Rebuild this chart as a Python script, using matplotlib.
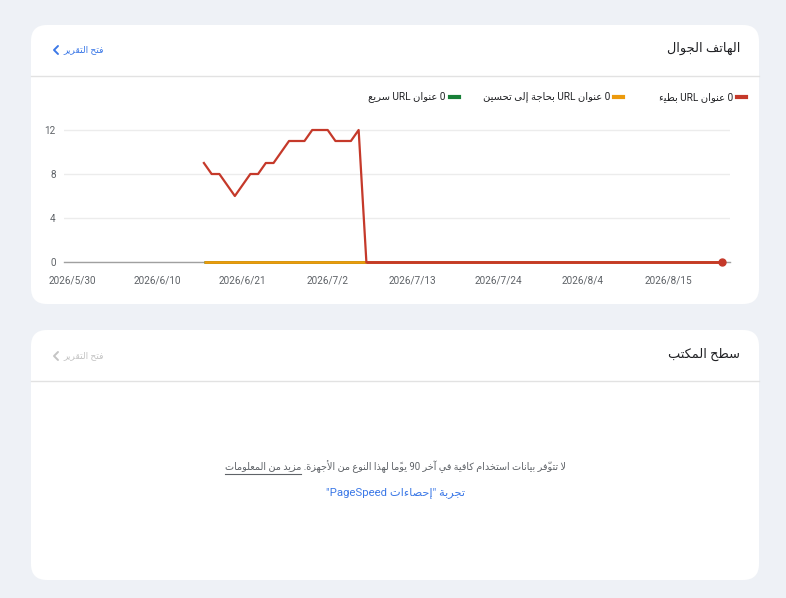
import re
import numpy as np
import matplotlib
matplotlib.use("Agg")
import matplotlib.pyplot as plt
from matplotlib.patches import FancyBboxPatch

# ---- data ----
tick_labels = ["2026/5/30", "2026/6/10", "2026/6/21", "2026/7/2",
               "2026/7/13", "2026/7/24", "2026/8/4", "2026/8/15"]
start_date = "2026-06-16"
slow = [9, 8, 8, 7, 6, 7, 8, 8, 9, 9, 10, 11, 11, 11, 12, 12, 12, 11, 11, 11, 12,
        0, 0, 0, 0, 0, 0, 0, 0, 0, 0, 0, 0, 0, 0, 0, 0, 0, 0, 0, 0, 0, 0, 0,
        0, 0, 0, 0, 0, 0, 0, 0, 0, 0, 0, 0, 0, 0, 0, 0, 0, 0, 0, 0, 0, 0, 0, 0]
needs_work = [0, 0, 0, 0, 0, 0, 0, 0, 0, 0, 0, 0, 0, 0, 0, 0, 0, 0, 0, 0, 0,
              0, 0, 0, 0, 0, 0, 0, 0, 0, 0, 0, 0, 0, 0, 0, 0, 0, 0, 0, 0, 0, 0, 0,
              0, 0, 0, 0, 0, 0, 0, 0, 0, 0, 0, 0, 0, 0, 0, 0, 0, 0, 0, 0, 0, 0, 0, 0]
fast = list(needs_work)

legend_labels = ["0 عنوان URL بطيء", "0 عنوان URL بحاجة إلى تحسين", "0 عنوان URL سريع"]
colors = ["#c5392a", "#ec9a0c", "#188038"]

# ---- minimal arabic shaping + rtl ordering (matplotlib does neither) ----
FORMS = {'ء': (0xFE80, 1), 'آ': (0xFE81, 2), 'أ': (0xFE83, 2), 'ؤ': (0xFE85, 2),
         'إ': (0xFE87, 2), 'ئ': (0xFE89, 4), 'ا': (0xFE8D, 2), 'ب': (0xFE8F, 4),
         'ة': (0xFE93, 2), 'ت': (0xFE95, 4), 'ث': (0xFE99, 4), 'ج': (0xFE9D, 4),
         'ح': (0xFEA1, 4), 'خ': (0xFEA5, 4), 'د': (0xFEA9, 2), 'ذ': (0xFEAB, 2),
         'ر': (0xFEAD, 2), 'ز': (0xFEAF, 2), 'س': (0xFEB1, 4), 'ش': (0xFEB5, 4),
         'ص': (0xFEB9, 4), 'ض': (0xFEBD, 4), 'ط': (0xFEC1, 4), 'ظ': (0xFEC5, 4),
         'ع': (0xFEC9, 4), 'غ': (0xFECD, 4), 'ف': (0xFED1, 4), 'ق': (0xFED5, 4),
         'ك': (0xFED9, 4), 'ل': (0xFEDD, 4), 'م': (0xFEE1, 4), 'ن': (0xFEE5, 4),
         'ه': (0xFEE9, 4), 'و': (0xFEED, 2), 'ى': (0xFEEF, 2), 'ي': (0xFEF1, 4)}
LAM_ALEF = {'آ': 0xFEF5, 'أ': 0xFEF7, 'إ': 0xFEF9, 'ا': 0xFEFB}


def is_mark(c):
    return '\u064B' <= c <= '\u0652'


def shape(s):
    n = len(s)
    out = []

    def letter(j, step):
        while 0 <= j < n and is_mark(s[j]):
            j += step
        return j if 0 <= j < n else None

    i = 0
    while i < n:
        c = s[i]
        if c not in FORMS:
            out.append(c)
            i += 1
            continue
        p = letter(i - 1, -1)
        jp = p is not None and s[p] in FORMS and FORMS[s[p]][1] == 4
        nx = letter(i + 1, 1)
        if c == 'ل' and nx is not None and s[nx] in LAM_ALEF:
            out.append(chr(LAM_ALEF[s[nx]] + (1 if jp else 0)))
            i = nx + 1
            continue
        base, k = FORMS[c]
        jn = k == 4 and nx is not None and s[nx] in FORMS
        if k == 1:
            f = 0
        elif k == 2:
            f = 1 if jp else 0
        else:
            f = {(False, False): 0, (True, False): 1, (False, True): 2, (True, True): 3}[(jp, jn)]
        out.append(chr(base + f))
        i += 1
    return ''.join(out)


def rev_clusters(t):
    cl = []
    for ch in t:
        if is_mark(ch) and cl:
            cl[-1] += ch
        else:
            cl.append(ch)
    return ''.join(reversed(cl))


def ar(s):
    parts = re.split(r'([A-Za-z0-9]+(?:[ ./][A-Za-z0-9]+)*)', shape(s))
    out = [p if k % 2 else rev_clusters(p) for k, p in enumerate(parts)]
    return ''.join(reversed(out))


FAM = ['Roboto', 'DejaVu Sans']
W, H = 786, 598
fig = plt.figure(figsize=(W / 100, H / 100), dpi=100)
fig.patch.set_facecolor('#eef1f6')

bg = fig.add_axes([0, 0, 1, 1])
bg.set_xlim(0, W)
bg.set_ylim(H, 0)
bg.axis('off')

# cards
for (y0, y1, ydiv) in [(25, 304, 76), (330, 580, 381)]:
    bg.add_patch(FancyBboxPatch((31, y0), 728, y1 - y0,
                                boxstyle="round,pad=0,rounding_size=16",
                                fc='white', ec='none'))
    bg.plot([31, 759], [ydiv, ydiv], color='#e2e2e2', lw=1)

# headers
bg.text(740, 48, ar("الهاتف الجوال"), ha='right', va='center', fontsize=9.3,
        color='#202124', family=FAM)
bg.text(740, 354, ar("سطح المكتب"), ha='right', va='center', fontsize=9.3,
        color='#202124', family=FAM)
for y, col in [(50, '#3b78e7'), (356, '#c4c4c4')]:
    bg.text(63, y, ar("فتح التقرير"), ha='left', va='center', fontsize=6.6,
            color=col, family=FAM)
    bg.plot([58, 54, 58], [y - 4, y, y + 4], color=col, lw=1.4,
            solid_capstyle='round', solid_joinstyle='round')

# legend (right to left)
leg_x = [746, 623, 459]
for x, lab, col in zip(leg_x, legend_labels, colors):
    bg.plot([x - 9, x], [97, 97], color=col, lw=3)
    bg.text(x - 13, 97, ar(lab), ha='right', va='center', fontsize=7.2,
            color='#202124', family=FAM)

# empty state for desktop
sent_main = ar("لا تتوفّر بيانات استخدام كافية في آخر 90 يومًا لهذا النوع من الأجهزة.")
sent_link = ar("مزيد من المعلومات")
t_all = bg.text(395.5, 467, sent_link + " " + sent_main, ha='center', va='center',
                fontsize=6.95, color='#5f6368', family=FAM)
t_link = bg.text(0, -50, sent_link, fontsize=6.95, family=FAM)
r = fig.canvas.get_renderer()
ball = t_all.get_window_extent(r)
blink = t_link.get_window_extent(r)
t_link.remove()
bg.plot([ball.x0, ball.x0 + blink.width], [474, 474], color='#5f6368', lw=0.8)

bg.text(395.5, 493, ar('تجربة "إحصاءات PageSpeed"'), ha='center', va='center',
        fontsize=8.2, color='#3b78e7', family=FAM)

# ---- chart ----
ax = fig.add_axes([64 / W, 1 - 262 / H, (730 - 64) / W, (262 - 119) / H])
ax.patch.set_alpha(0)
dates = np.datetime64(start_date) + np.arange(len(slow))
tick_dates = [np.datetime64('-'.join(p.zfill(2) for p in t.split('/'))) for t in tick_labels]

ax.axhline(0, color='#a0a0a0', lw=1, zorder=1.5, clip_on=False)
ax.plot(dates, fast, color=colors[2], lw=2, solid_capstyle='butt', clip_on=False)
ax.plot(dates, needs_work, color=colors[1], lw=2, solid_capstyle='butt', clip_on=False)
ax.plot(dates[:22], slow[:22], color=colors[0], lw=1.6, clip_on=False)
ax.plot(dates[21:], slow[21:], color=colors[0], lw=2, solid_capstyle='butt', clip_on=False)
ax.plot(dates[-1:], slow[-1:], 'o', color=colors[0], ms=5, clip_on=False)

ax.set_xlim(np.datetime64('2026-05-29') - np.timedelta64(2, 'h'), np.datetime64('2026-08-23'))
ax.set_ylim(0, 13)
ax.set_yticks([0, 4, 8, 12])
ax.set_yticklabels(['0', '4', '8', '12'])
ax.set_xticks(tick_dates)
ax.set_xticklabels(tick_labels)
ax.tick_params(axis='y', length=0, labelsize=7.2, labelcolor='#5f6368', pad=6)
ax.tick_params(axis='x', length=0, labelsize=7.2, labelcolor='#5f6368', pad=10)
for lab in ax.get_xticklabels() + ax.get_yticklabels():
    lab.set_family(FAM)
ax.grid(axis='y', color='#ececec', lw=1)
ax.set_axisbelow(True)
for s in ax.spines.values():
    s.set_visible(False)

fig.savefig('out.png', dpi=100)
